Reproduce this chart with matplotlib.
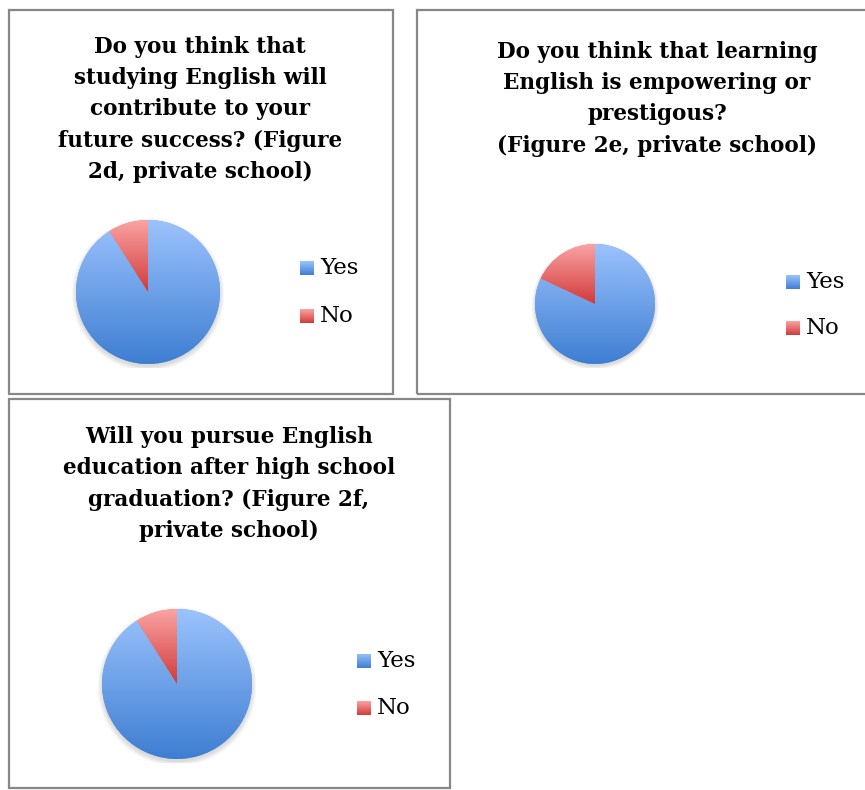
import numpy as np
import matplotlib
matplotlib.use("Agg")
import matplotlib.pyplot as plt
from matplotlib.patches import Rectangle, Circle
from matplotlib.colors import LinearSegmentedColormap

# ---- data ----
labels = ["Yes", "No"]
titles = [
    "Do you think that\nstudying English will\ncontribute to your\nfuture success? (Figure\n2d, private school)",
    "Do you think that learning\nEnglish is empowering or\nprestigous?\n(Figure 2e, private school)",
    "Will you pursue English\neducation after high school\ngraduation? (Figure 2f,\nprivate school)",
]
values_2d = [91, 9]
values_2e = [82, 18]
values_2f = [91, 9]
all_values = [values_2d, values_2e, values_2f]

W, H = 865, 790
fig = plt.figure(figsize=(W / 100, H / 100), dpi=100)
fig.patch.set_facecolor("white")

def fx(x):
    return x / W

def fy(y):
    return 1 - y / H

# panel frames (pixels: left, top, right, bottom)
frames = [(9, 10, 393, 394), (417, 10, 900, 394), (9, 399, 450, 788)]
for (l, t, r, b) in frames:
    fig.add_artist(Rectangle((fx(l), fy(b)), fx(r - l), (b - t) / H,
                             transform=fig.transFigure, fill=False,
                             edgecolor="#878787", linewidth=1.6, zorder=0))

# layout per panel
title_pos = [(200, 36), (657, 41), (229, 426)]
pie_geo = [(148, 292, 72), (595, 304, 60), (177, 684, 75)]
legend_pos = [(300, 268, 316), (786, 282, 328), (357, 661, 708)]

blue_top, blue_bot = "#9cc3fd", "#3e7ed2"
red_top, red_bot = "#fba3a3", "#d23a3a"
blue_cmap = LinearSegmentedColormap.from_list("b", [blue_top, blue_bot])
red_cmap = LinearSegmentedColormap.from_list("r", [red_top, red_bot])
cmaps = [blue_cmap, red_cmap]
mid_colors = ["#6d9fe6", "#e76e6e"]

grad = np.linspace(0, 1, 256).reshape(-1, 1)

for i, vals in enumerate(all_values):
    tx, ty = title_pos[i]
    fig.text(fx(tx), fy(ty), titles[i], ha="center", va="top",
             fontsize=15.5, fontweight="bold", family="DejaVu Serif",
             linespacing=1.54, color="black")

    cx, cy, r = pie_geo[i]
    ax = fig.add_axes([fx(cx - r - 4), fy(cy + r + 4), (2 * r + 8) / W, (2 * r + 8) / H])
    ax.set_axis_off()
    # soft shadow
    for k in range(6):
        ax.add_patch(Circle((0.0, -0.035), 1.0 + 0.012 * k, facecolor="black",
                            alpha=0.025, edgecolor="none", zorder=0))
    wedges, _ = ax.pie(vals, colors=mid_colors, startangle=90, counterclock=False,
                       wedgeprops=dict(linewidth=0, edgecolor="none"))
    for w, cm in zip(wedges, cmaps):
        verts = w.get_path().vertices
        y0, y1 = verts[:, 1].min(), verts[:, 1].max()
        im = ax.imshow(grad, cmap=cm, aspect="auto",
                       extent=(-1.05, 1.05, y0, y1), origin="upper", zorder=2)
        im.set_clip_path(w)
    lim = 1.0 + 4.0 / r
    ax.set_xlim(-lim, lim)
    ax.set_ylim(-lim, lim)

    lx, ly_yes, ly_no = legend_pos[i]
    for lab, ly, cm in zip(labels, [ly_yes, ly_no], cmaps):
        s = 14
        lax = fig.add_axes([fx(lx), fy(ly + s / 2), s / W, s / H])
        lax.imshow(grad, cmap=cm, aspect="auto", extent=(0, 1, 0, 1), origin="upper")
        lax.set_axis_off()
        fig.text(fx(lx + s + 6), fy(ly), lab, ha="left", va="center",
                 fontsize=16.5, family="DejaVu Serif", color="black")

fig.savefig("out.png", dpi=100, facecolor="white")
